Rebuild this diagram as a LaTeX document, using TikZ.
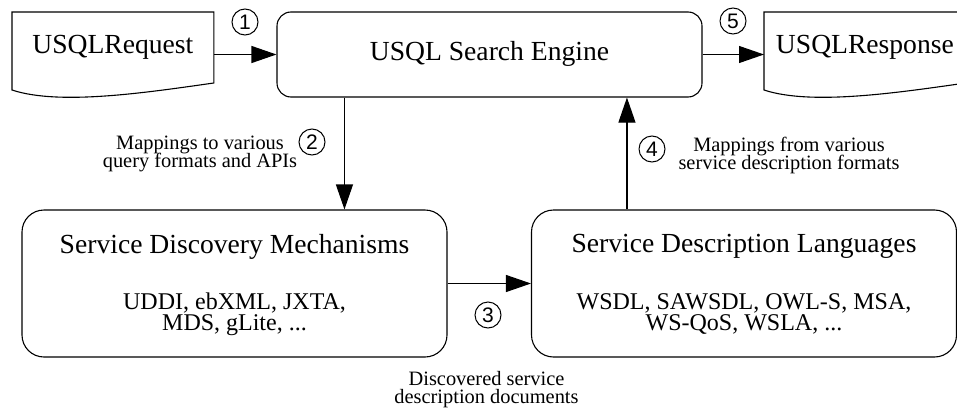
\documentclass[tikz,border=0pt]{standalone}
\usepackage{fontspec}
\setmainfont{Liberation Serif}
\newfontfamily\numfont{Liberation Sans}
\usetikzlibrary{arrows.meta,calc,positioning}

\newcommand{\tightlines}{\lineskiplimit=-20pt\relax}

\tikzset{
  enginebox/.style={draw, line width=0.55pt, rounded corners=7pt, minimum width=212.5pt, minimum height=42.5pt, inner sep=0pt, text height=9.5pt, text depth=3.5pt, font=\fontsize{13.8}{16}\selectfont},
  bigbox/.style={draw, line width=0.55pt, rounded corners=11pt, minimum width=212.5pt, minimum height=73.5pt, inner sep=0pt},
  docnode/.style={anchor=north west, minimum width=100.5pt, minimum height=39pt, inner sep=0pt, text height=9.5pt, text depth=7.5pt, font=\fontsize{13.8}{16}\selectfont},
  boxtitle/.style={inner sep=0pt, font=\fontsize{13.8}{16}\selectfont},
  boxlist/.style={inner sep=0pt, align=center, font=\fontsize{12}{10.5}\selectfont\tightlines},
  note/.style={inner sep=0pt, align=center, font=\fontsize{10.2}{9}\selectfont\tightlines},
  numcircle/.style={draw, circle, line width=0.5pt, minimum size=13pt, inner sep=0pt, font=\numfont\fontsize{10.5}{12}\selectfont},
  flowarrow/.style={line width=0.55pt, -{Triangle[length=12.5pt,width=8.5pt]}},
}

% document symbol with wavy bottom edge
\newcommand{\docoutline}[1]{%
  \draw[line width=0.55pt] (#1.north west) -- (#1.north east)
    -- ($(#1.north east)+(0,71)$)
    .. controls ($(#1.north west)+(138,80)$) and ($(#1.north west)+(48,94)$)
    .. ($(#1.north west)+(0,78)$) -- cycle;}

\begin{document}
\begin{tikzpicture}[x=0.5pt,y=-0.5pt]
	\useasboundingbox (0,0) rectangle (957,412);
	\clip (0,0) rectangle (957,412);

	% top row
	\node[docnode] (req) at (12,12) {USQLRequest};
	\docoutline{req}
	\node[enginebox] (engine) at (489.5,54.5) {USQL Search Engine};
	\node[docnode] (resp) at (764,12) {USQLResponse};
	\docoutline{resp}

	% bottom row
	\node[bigbox] (sdm) at (234.5,283.5) {};
	\node[boxtitle] (sdmtitle) at (234.5,246.6) {Service Discovery Mechanisms};
	\node[boxlist] (sdmlist) at (234.5,314.4) {UDDI, ebXML, JXTA,\\MDS, gLite, ...};
	\node[bigbox] (sdl) at (744,283.5) {};
	\node[boxtitle] (sdltitle) at (744,246.6) {Service Description Languages};
	\node[boxlist] (sdllist) at (744,313.5) {WSDL, SAWSDL, OWL-S, MSA,\\WS-QoS, WSLA, ...};

	% flow
	\draw[flowarrow] (req.east |- engine.west) -- (engine.west);
	\draw[flowarrow] (engine.east) -- (resp.west |- engine.east);
	\draw[flowarrow] ([xshift=34pt]engine.south west) -- ([xshift=34pt]engine.south west |- sdm.north);
	\draw[flowarrow] (sdm.east) -- (sdl.west);
	\draw[flowarrow] ([xshift=48pt]sdl.north west) -- ([xshift=48pt]sdl.north west |- engine.south);

	% step numbers and notes
	\node[numcircle] (n1) at (245,22) {1};
	\node[numcircle] (n2) at (312,142) {2};
	\node[numcircle] (n3) at (488,315) {3};
	\node[numcircle] (n4) at (652,149) {4};
	\node[numcircle] (n5) at (733,21) {5};
	\node[note] (map2) at (200,154.2) {Mappings to various\\query formats and APIs};
	\node[note] (map4) at (789,155) {Mappings from various\\service description formats};
	\node[note] (disc) at (486.5,389.7) {Discovered service\\description documents};
\end{tikzpicture}
\end{document}
